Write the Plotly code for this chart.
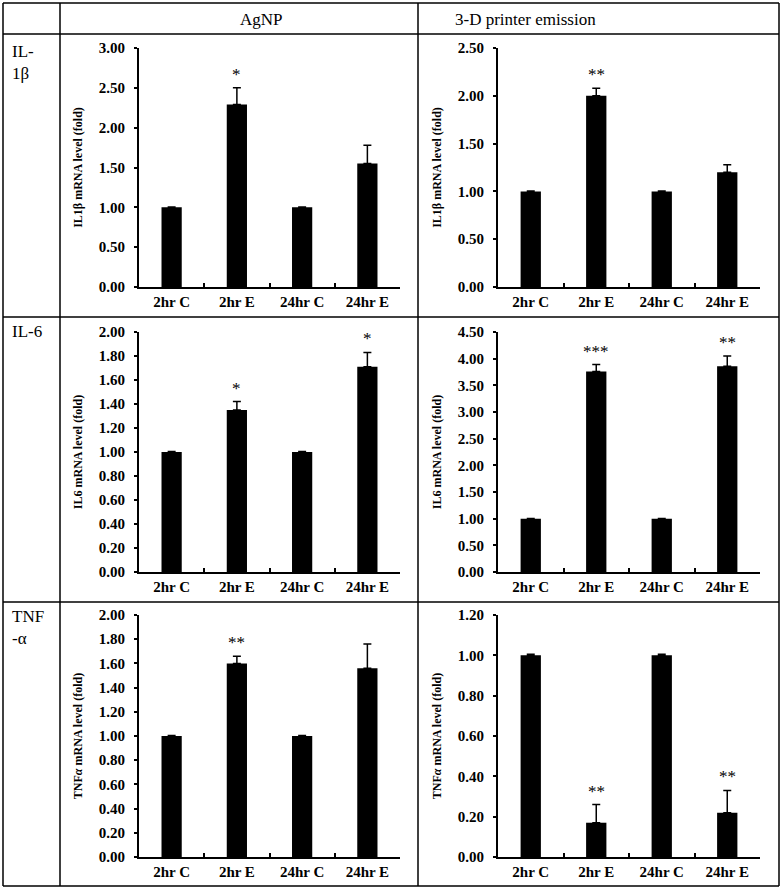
import plotly.graph_objects as go
from plotly.subplots import make_subplots

# groups on the x axis
categories = ["2hr C", "2hr E", "24hr C", "24hr E"]

# fold change values, with the upper error bar
agnp_il1b = [1.00, 2.29, 1.00, 1.55]
agnp_il1b_err = [0.005, 0.21, 0.005, 0.23]
printer_il1b = [1.00, 2.00, 1.00, 1.20]
printer_il1b_err = [0.005, 0.08, 0.005, 0.08]

agnp_il6 = [1.00, 1.35, 1.00, 1.71]
agnp_il6_err = [0.005, 0.07, 0.005, 0.12]
printer_il6 = [1.00, 3.76, 1.00, 3.86]
printer_il6_err = [0.005, 0.13, 0.005, 0.19]

agnp_tnfa = [1.00, 1.60, 1.00, 1.56]
agnp_tnfa_err = [0.005, 0.06, 0.005, 0.20]
printer_tnfa = [1.00, 0.17, 1.00, 0.22]
printer_tnfa_err = [0.005, 0.09, 0.005, 0.11]

# significance marks per bar
agnp_il1b_sig = ["", "*", "", ""]
printer_il1b_sig = ["", "**", "", ""]
agnp_il6_sig = ["", "*", "", "*"]
printer_il6_sig = ["", "***", "", "**"]
agnp_tnfa_sig = ["", "**", "", ""]
printer_tnfa_sig = ["", "**", "", "**"]

column_titles = ["AgNP", "3-D printer emission"]
row_titles = ["IL-<br>1β", "IL-6", "TNF<br>-α"]
y_titles = ["IL1β mRNA level (fold)", "IL6 mRNA level (fold)", "TNF<i>α</i> mRNA level (fold)"]

panels = [
    (1, 1, agnp_il1b, agnp_il1b_err, agnp_il1b_sig, 3.0, 0.5),
    (1, 2, printer_il1b, printer_il1b_err, printer_il1b_sig, 2.5, 0.5),
    (2, 1, agnp_il6, agnp_il6_err, agnp_il6_sig, 2.0, 0.2),
    (2, 2, printer_il6, printer_il6_err, printer_il6_sig, 4.5, 0.5),
    (3, 1, agnp_tnfa, agnp_tnfa_err, agnp_tnfa_sig, 2.0, 0.2),
    (3, 2, printer_tnfa, printer_tnfa_err, printer_tnfa_sig, 1.2, 0.2),
]

W, H = 782, 890
FONT = "Liberation Serif, Times New Roman, serif"

fig = make_subplots(rows=3, cols=2)

# pixel boxes of the plot areas
col_px = [(139, 400), (498, 760)]
row_px = [(48, 287), (332, 572), (615, 857)]

for row, col, vals, errs, sigs, ymax, dtick in panels:
    fig.add_trace(go.Bar(
        x=categories, y=vals,
        marker=dict(color="black", line=dict(width=0)),
        error_y=dict(type="data", symmetric=False, array=errs,
                     arrayminus=[0] * len(errs), color="black",
                     thickness=1.5, width=4),
        showlegend=False,
    ), row=row, col=col)
    for cat, v, e, s in zip(categories, vals, errs, sigs):
        if s:
            fig.add_annotation(x=cat, y=v + e, text=s, showarrow=False,
                               yanchor="bottom", yshift=2,
                               font=dict(family=FONT, size=17, color="black"),
                               row=row, col=col)
    x0, x1 = col_px[col - 1]
    y0, y1 = row_px[row - 1]
    fig.update_xaxes(domain=[x0 / W, x1 / W], type="category", automargin=False,
                     showline=True, linecolor="black", linewidth=2,
                     ticks="inside", tickson="boundaries", ticklen=4,
                     tickwidth=2, tickcolor="black",
                     tickfont=dict(family=FONT, size=15, color="black", weight="bold"),
                     showgrid=False, zeroline=False, row=row, col=col)
    fig.update_yaxes(domain=[1 - y1 / H, 1 - y0 / H], range=[0, ymax], automargin=False,
                     dtick=dtick, tick0=0, tickformat=".2f",
                     showline=True, linecolor="black", linewidth=2,
                     ticks="outside", ticklen=3, tickwidth=2, tickcolor="black",
                     ticklabelstandoff=6,
                     tickfont=dict(family=FONT, size=15, color="black", weight="bold"),
                     title=dict(text=y_titles[row - 1], standoff=14,
                                font=dict(family=FONT, size=12, color="black", weight="bold")),
                     showgrid=False, zeroline=False, row=row, col=col)

# table frame
lines = [
    (3, 3, 779, 3), (3, 886, 779, 886), (3, 3, 3, 886), (779, 3, 779, 886),
    (60, 3, 60, 886), (418, 3, 418, 886),
    (3, 34, 779, 34), (3, 317, 779, 317), (3, 602, 779, 602),
]
for xa, ya, xb, yb in lines:
    fig.add_shape(type="line", xref="paper", yref="paper",
                  x0=xa / W, y0=1 - ya / H, x1=xb / W, y1=1 - yb / H,
                  line=dict(color="black", width=1.5))

for title, xc in zip(column_titles, [238, 598]):
    fig.add_annotation(x=xc / W, y=1 - 8 / H, xref="paper", yref="paper",
                       text=title, showarrow=False, yanchor="top",
                       font=dict(family=FONT, size=17, color="black"))

for title, yt in zip(row_titles, [40, 320, 605]):
    fig.add_annotation(x=10 / W, y=1 - yt / H, xref="paper", yref="paper",
                       text=title, showarrow=False, xanchor="left", yanchor="top",
                       align="left",
                       font=dict(family=FONT, size=17, color="black"))

fig.update_layout(width=W, height=H, margin=dict(l=0, r=0, t=0, b=0, autoexpand=False),
                  plot_bgcolor="white", paper_bgcolor="white",
                  bargap=0.69)

fig.write_html("out.html", config={"displayModeBar": False},
               post_script="document.body.style.margin='0';")
